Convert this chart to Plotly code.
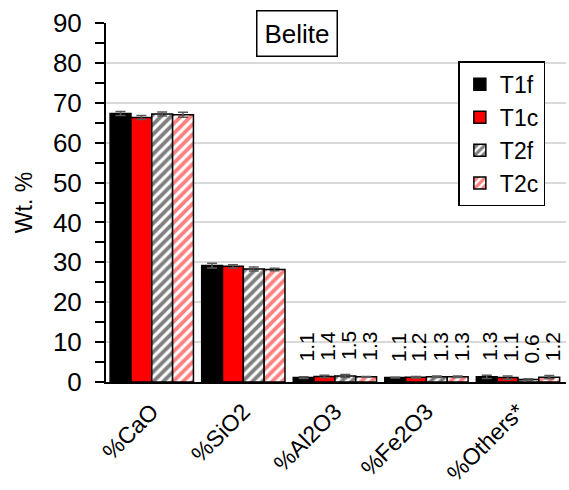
import plotly.graph_objects as go

# Oxide composition of belite for each sample
categories = ["%CaO", "%SiO2", "%Al2O3", "%Fe2O3", "%Others*"]
series_names = ["T1f", "T1c", "T2f", "T2c"]

t1f = [67.3, 29.2, 1.1, 1.1, 1.3]
t1c = [66.3, 29.0, 1.4, 1.2, 1.1]
t2f = [67.2, 28.3, 1.5, 1.3, 0.6]
t2c = [67.0, 28.2, 1.3, 1.3, 1.2]

t1f_err = [0.5, 0.6, 0.2, 0.1, 0.4]
t1c_err = [0.5, 0.4, 0.3, 0.2, 0.4]
t2f_err = [0.5, 0.5, 0.4, 0.2, 0.2]
t2c_err = [0.6, 0.3, 0.1, 0.2, 0.4]

# Categories whose values are written above the bars
labelled = ["%Al2O3", "%Fe2O3", "%Others*"]

values = [t1f, t1c, t2f, t2c]
errors = [t1f_err, t1c_err, t2f_err, t2c_err]

styles = [
    dict(color="black", pattern=None),
    dict(color="#ff0000", pattern=None),
    dict(color="white", pattern=dict(shape="/", fgcolor="black", bgcolor="white", size=7, solidity=0.55)),
    dict(color="white", pattern=dict(shape="/", fgcolor="#ff0000", bgcolor="white", size=7, solidity=0.55)),
]

FONT = "Liberation Sans, Arial, sans-serif"

fig = go.Figure()
for name, vals, errs, st in zip(series_names, values, errors, styles):
    marker = dict(color=st["color"], line=dict(color="black", width=1.5))
    if st["pattern"] is not None:
        marker["pattern"] = st["pattern"]
    fig.add_trace(go.Bar(
        name=name, x=categories, y=vals,
        marker=marker,
        error_y=dict(type="data", array=errs, visible=True,
                     color="#595959", thickness=1.5, width=5),
    ))

# Rotated value labels above the small oxide bars
n = len(series_names)
bar_px = 21
annotations = []
for si, (vals, errs) in enumerate(zip(values, errors)):
    offset = (si - (n - 1) / 2) * bar_px
    for ci, cat in enumerate(categories):
        if cat not in labelled:
            continue
        annotations.append(dict(
            x=ci, y=vals[ci], xref="x", yref="y",
            text=f"{vals[ci]:.1f}", showarrow=False, textangle=-90,
            xanchor="center", yanchor="bottom", xshift=offset + 3, yshift=14,
            font=dict(family=FONT, size=21, color="black"),
        ))

# Boxed phase name, placed in paper coordinates of the plot area
plot_w = 569 - 106 - 3
plot_h = 490 - 23 - 108
annotations.append(dict(
    x=(297 - 106) / plot_w, y=(382 - 33.5) / plot_h,
    xref="paper", yref="paper", text="Belite", showarrow=False,
    xanchor="center", yanchor="middle",
    font=dict(family=FONT, size=26, color="black"),
    bgcolor="white", bordercolor="black", borderwidth=1.5, borderpad=7,
))

fig.update_layout(
    width=569, height=490,
    margin=dict(l=106, r=3, t=23, b=108),
    paper_bgcolor="white", plot_bgcolor="white",
    barmode="group", bargap=0.09, bargroupgap=0,
    font=dict(family=FONT, size=24, color="black"),
    showlegend=True,
    legend=dict(
        x=0.766, y=0.893, xanchor="left", yanchor="top",
        bgcolor="white", bordercolor="black", borderwidth=1.5,
        font=dict(family=FONT, size=23, color="black"),
        tracegroupgap=0, itemwidth=30,
    ),
    annotations=annotations,
)

fig.update_yaxes(
    range=[0, 90], dtick=10, tick0=0, automargin=False,
    showgrid=True, gridcolor="#d9d9d9", gridwidth=2,
    showline=True, linecolor="black", linewidth=2,
    ticks="outside", ticklen=9, tickwidth=2, tickcolor="black",
    minor=dict(dtick=5, tick0=0, ticks="outside", ticklen=9, tickwidth=2,
               tickcolor="black", showgrid=False),
    tickfont=dict(family=FONT, size=26),
    ticklabelstandoff=8,
    title=dict(text="Wt. %", font=dict(family=FONT, size=23), standoff=14),
    zeroline=False,
)
fig.update_xaxes(
    automargin=False,
    showline=True, linecolor="black", linewidth=2,
    ticks="", tickangle=-45,
    tickfont=dict(family=FONT, size=23),
    ticklabelstandoff=5,
    showgrid=False,
)

fig.write_html("out.html")
